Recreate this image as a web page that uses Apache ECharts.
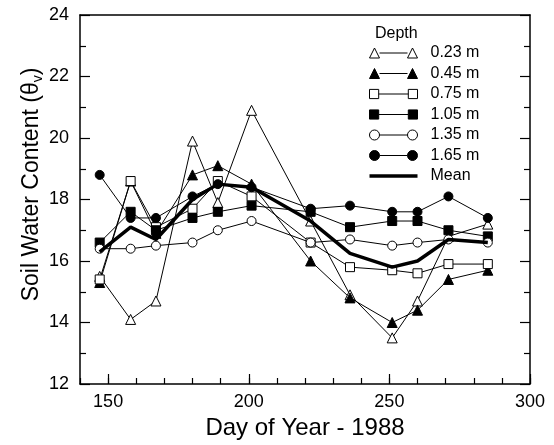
<!DOCTYPE html>
<html>
<head>
<meta charset="utf-8">
<script src="https://cdn.jsdelivr.net/npm/echarts@6/dist/echarts.min.js"></script>
<style>
html,body{margin:0;padding:0;background:#fff;}
#chart{width:554px;height:445px;}
</style>
</head>
<body>
<div id="chart"></div>
<script>
// ---- data ----
var days = [147, 158, 167, 180, 189, 201, 222, 236, 251, 260, 271, 285];
var depth023 = [15.5, 14.1, 14.7, 19.9, 17.9, 20.9, 17.3, 14.9, 13.5, 14.7, 16.8, 17.2];
var depth045 = [15.3, 18.6, 16.9, 18.8, 19.1, 18.5, 16.0, 14.8, 14.0, 14.4, 15.4, 15.7];
var depth075 = [15.4, 18.6, 17.1, 17.7, 18.6, 18.1, 16.6, 15.8, 15.7, 15.6, 15.9, 15.9];
var depth105 = [16.6, 17.6, 17.0, 17.4, 17.6, 17.8, 17.6, 17.1, 17.3, 17.3, 17.0, 16.8];
var depth135 = [16.4, 16.4, 16.5, 16.6, 17.0, 17.3, 16.6, 16.7, 16.5, 16.6, 16.7, 16.6];
var depth165 = [18.8, 17.4, 17.4, 18.1, 18.5, 18.4, 17.7, 17.8, 17.6, 17.6, 18.1, 17.4];
var meanVals = [16.3, 17.1, 16.7, 18.0, 18.5, 18.4, 17.3, 16.25, 15.8, 16.0, 16.7, 16.6];
var seriesNames = ['0.23 m', '0.45 m', '0.75 m', '1.05 m', '1.35 m', '1.65 m', 'Mean'];
var xTicks = [150, 200, 250, 300];
var yTicks = [12, 14, 16, 18, 20, 22, 24];

function pairs(vals) { return days.map(function (d, i) { return [d, vals[i]]; }); }

var FONT = 'Liberation Sans, Arial, Helvetica, sans-serif';
var seriesDefs = [
  { name: seriesNames[0], vals: depth023, symbol: 'triangle', open: true, size: 10 },
  { name: seriesNames[1], vals: depth045, symbol: 'triangle', open: false, size: 10 },
  { name: seriesNames[2], vals: depth075, symbol: 'rect', open: true, size: 9 },
  { name: seriesNames[3], vals: depth105, symbol: 'rect', open: false, size: 9 },
  { name: seriesNames[4], vals: depth135, symbol: 'circle', open: true, size: 9 },
  { name: seriesNames[5], vals: depth165, symbol: 'circle', open: false, size: 9 }
];

var series = seriesDefs.map(function (s) {
  return {
    name: s.name, type: 'line', data: pairs(s.vals), xAxisIndex: 0, yAxisIndex: 0,
    symbol: s.symbol, symbolSize: s.size,
    itemStyle: { color: s.open ? '#fff' : '#000', borderColor: '#000', borderWidth: 1 },
    lineStyle: { color: '#000', width: 1 },
    emphasis: { disabled: true }, z: 2
  };
});
series.push({
  name: seriesNames[6], type: 'line', data: pairs(meanVals), xAxisIndex: 0, yAxisIndex: 0,
  symbol: 'none',
  lineStyle: { color: '#000', width: 3.5 }, itemStyle: { color: '#000' },
  emphasis: { disabled: true }, z: 3
});

var icons = {
  triangle: 'path://M0,10 L5,0 L10,10 Z M38,10 L43,0 L48,10 Z M10,5 L38,5',
  rect: 'path://M0.5,0.5 L9.5,0.5 L9.5,9.5 L0.5,9.5 Z M38.5,0.5 L47.5,0.5 L47.5,9.5 L38.5,9.5 Z M9.5,5 L38.5,5',
  circle: 'path://M0,5 A5,5 0 1,0 10,5 A5,5 0 1,0 0,5 Z M38,5 A5,5 0 1,0 48,5 A5,5 0 1,0 38,5 Z M10,5 L38,5'
};
var legendData = seriesDefs.map(function (s) {
  return {
    name: s.name, icon: icons[s.symbol],
    itemStyle: { color: s.open ? '#fff' : '#000', borderColor: '#000', borderWidth: 1 }
  };
});
legendData.push({
  name: seriesNames[6], icon: 'path://M0,3.2 L48,3.2 L48,6.8 L0,6.8 Z',
  itemStyle: { color: '#000', borderColor: '#000', borderWidth: 0 }
});

var axisLineStyle = { show: true, onZero: false, lineStyle: { color: '#000', width: 1.5 } };
var tickStyle = { color: '#000', width: 1.2 };

var chart = echarts.init(document.getElementById('chart'), null, { renderer: 'canvas' });
chart.setOption({
  animation: false,
  backgroundColor: '#fff',
  textStyle: { fontFamily: FONT },
  title: {
    text: 'Depth', left: 370, top: 21,
    textStyle: { fontFamily: FONT, fontSize: 16, fontWeight: 'normal', color: '#000' }
  },
  legend: {
    orient: 'vertical', left: 369, top: 45, itemWidth: 48, itemHeight: 10, itemGap: 4.5,
    padding: 0, selectedMode: false, data: legendData,
    textStyle: { fontFamily: FONT, fontSize: 16, color: '#000', padding: [0, 0, 0, 8] }
  },
  grid: { left: 80, right: 24, top: 15, bottom: 61, show: false },
  xAxis: [{
    type: 'value', min: 140, max: 300, interval: 10, position: 'bottom',
    name: 'Day of Year - 1988', nameLocation: 'middle', nameGap: 31,
    nameTextStyle: { fontFamily: FONT, fontSize: 24, color: '#000' },
    axisLine: axisLineStyle,
    axisTick: { show: true, inside: true, length: 6, lineStyle: tickStyle },
    axisLabel: {
      fontFamily: FONT, fontSize: 18, color: '#000', margin: 9,
      formatter: function (v) { return xTicks.indexOf(v) >= 0 ? String(v) : ''; }
    },
    splitLine: { show: false }
  }, {
    type: 'value', min: 140, max: 300, interval: 10, position: 'top',
    axisLine: axisLineStyle,
    axisTick: { show: false }, axisLabel: { show: false }, splitLine: { show: false }
  }, {
    type: 'value', min: 140, max: 300, position: 'bottom',
    axisLine: { show: false },
    axisTick: { show: true, inside: true, length: 10, lineStyle: tickStyle, customValues: xTicks },
    axisLabel: { show: false }, splitLine: { show: false }
  }],
  yAxis: [{
    type: 'value', min: 12, max: 24, interval: 2, position: 'left',
    name: 'Soil Water Content (θ{s|v})', nameLocation: 'middle', nameGap: 35, nameRotate: 90,
    nameMoveOverlap: false,
    nameTextStyle: { fontFamily: FONT, fontSize: 23, color: '#000', padding: [0, 0, 0, 30],
      rich: { s: { fontFamily: FONT, fontSize: 14, color: '#000', padding: [13, 0, 0, 0] } } },
    axisLine: axisLineStyle,
    axisTick: { show: true, inside: true, length: 10, lineStyle: tickStyle },
    minorTick: { show: true, splitNumber: 2, length: 6, lineStyle: tickStyle },
    axisLabel: {
      fontFamily: FONT, fontSize: 18, color: '#000', margin: 11,
      formatter: function (v) { return yTicks.indexOf(v) >= 0 ? String(v) : ''; }
    },
    splitLine: { show: false }
  }, {
    type: 'value', min: 12, max: 24, interval: 2, position: 'right',
    axisLine: axisLineStyle,
    axisTick: { show: true, inside: true, length: 10, lineStyle: tickStyle },
    minorTick: { show: true, splitNumber: 2, length: 6, lineStyle: tickStyle },
    axisLabel: { show: false },
    splitLine: { show: false }
  }],
  series: series
});
</script>
</body>
</html>
